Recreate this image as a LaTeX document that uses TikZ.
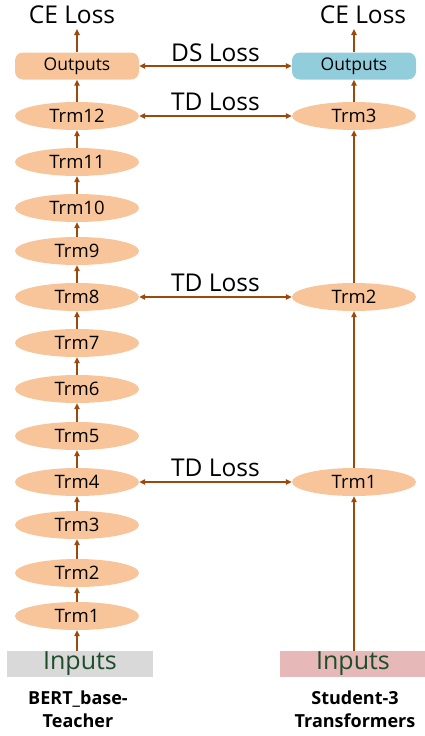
\documentclass[tikz,border=0pt]{standalone}
\usepackage{fontspec}
\setmainfont{Open Sans}
\usetikzlibrary{arrows.meta,shapes.geometric}
\definecolor{brn}{HTML}{9C4A0C}
\definecolor{peach}{HTML}{F8C59B}
\definecolor{sblue}{HTML}{92CDDC}
\definecolor{gin}{HTML}{D9D9D9}
\definecolor{pin}{HTML}{E6B9B8}
\definecolor{gtext}{HTML}{1E4D2B}
\tikzset{
  trm/.style={ellipse, fill=peach, minimum width=124pt, minimum height=28pt, inner sep=0pt, text=black, font=\fontsize{18.5}{18.5}\selectfont},
  outbox/.style={rounded corners=8pt, minimum width=124pt, minimum height=27pt, inner sep=0pt, text=black, font=\fontsize{17.5}{17.5}\selectfont},
  inbox/.style={minimum width=146pt, minimum height=26pt, inner sep=0pt, text=gtext, font=\fontsize{25}{25}\selectfont},
  loss/.style={font=\fontsize{24.5}{24.5}\selectfont, inner sep=0pt, text=black},
  captxt/.style={font=\bfseries\fontsize{18}{23}\selectfont, align=center, inner sep=0pt, text=black},
  arr/.style={brn, line width=1.4pt, -{Triangle[length=6pt,width=5.5pt]}},
  darr/.style={brn, line width=1.4pt, {Triangle[length=6pt,width=5.5pt]}-{Triangle[length=6pt,width=5.5pt]}}
}
\begin{document}
\begin{tikzpicture}[x=1pt,y=-1pt]
\useasboundingbox (0,0) rectangle (425,736);
% teacher
\node[loss] (ceL) at (72,15) {CE Loss};
\node[outbox, fill=peach] (outL) at (77,66) {Outputs};
\foreach \i/\y in {12/116,11/162,10/208,9/251,8/297,7/343,6/389,5/436,4/482,3/525,2/573,1/616}{
  \node[trm] (t\i) at (77,\y) {Trm\i};
}
\node[inbox, fill=gin] (inL) at (80,664) {Inputs};
\node[captxt] (capL) at (78,709) {BERT\_base-\\Teacher};
% student
\node[loss] (ceR) at (363,15) {CE Loss};
\node[outbox, fill=sblue] (outR) at (354,66) {Outputs};
\node[trm] (s3) at (354,116) {Trm3};
\node[trm] (s2) at (354,297) {Trm2};
\node[trm] (s1) at (354,482) {Trm1};
\node[inbox, fill=pin] (inR) at (353,664) {Inputs};
\node[captxt] (capR) at (355,709) {Student-3\\Transformers};
% vertical arrows teacher
\draw[arr] (inL.north -| t1) -- (t1.south);
\foreach \a/\b in {1/2,2/3,3/4,4/5,5/6,6/7,7/8,8/9,9/10,10/11,11/12}{
  \draw[arr] (t\a.north) -- (t\b.south);
}
\draw[arr] (t12.north) -- (outL.south);
\coordinate (ceLb) at (77,29);
\draw[arr] (outL.north) -- (ceLb);
% vertical arrows student
\draw[arr] (inR.north -| s1) -- (s1.south);
\draw[arr] (s1.north) -- (s2.south);
\draw[arr] (s2.north) -- (s3.south);
\draw[arr] (s3.north) -- (outR.south);
\coordinate (ceRb) at (354,29);
\draw[arr] (outR.north) -- (ceRb);
% horizontal
\draw[darr] (outL.east) -- node[loss, above=4pt] (dsl) {DS Loss} (outR.west);
\draw[darr] (t12.east) -- node[loss, above=5pt] (td1) {TD Loss} (s3.west);
\draw[darr] (t8.east) -- node[loss, above=5pt] (td2) {TD Loss} (s2.west);
\draw[darr] (t4.east) -- node[loss, above=5pt] (td3) {TD Loss} (s1.west);
\end{tikzpicture}
\end{document}
